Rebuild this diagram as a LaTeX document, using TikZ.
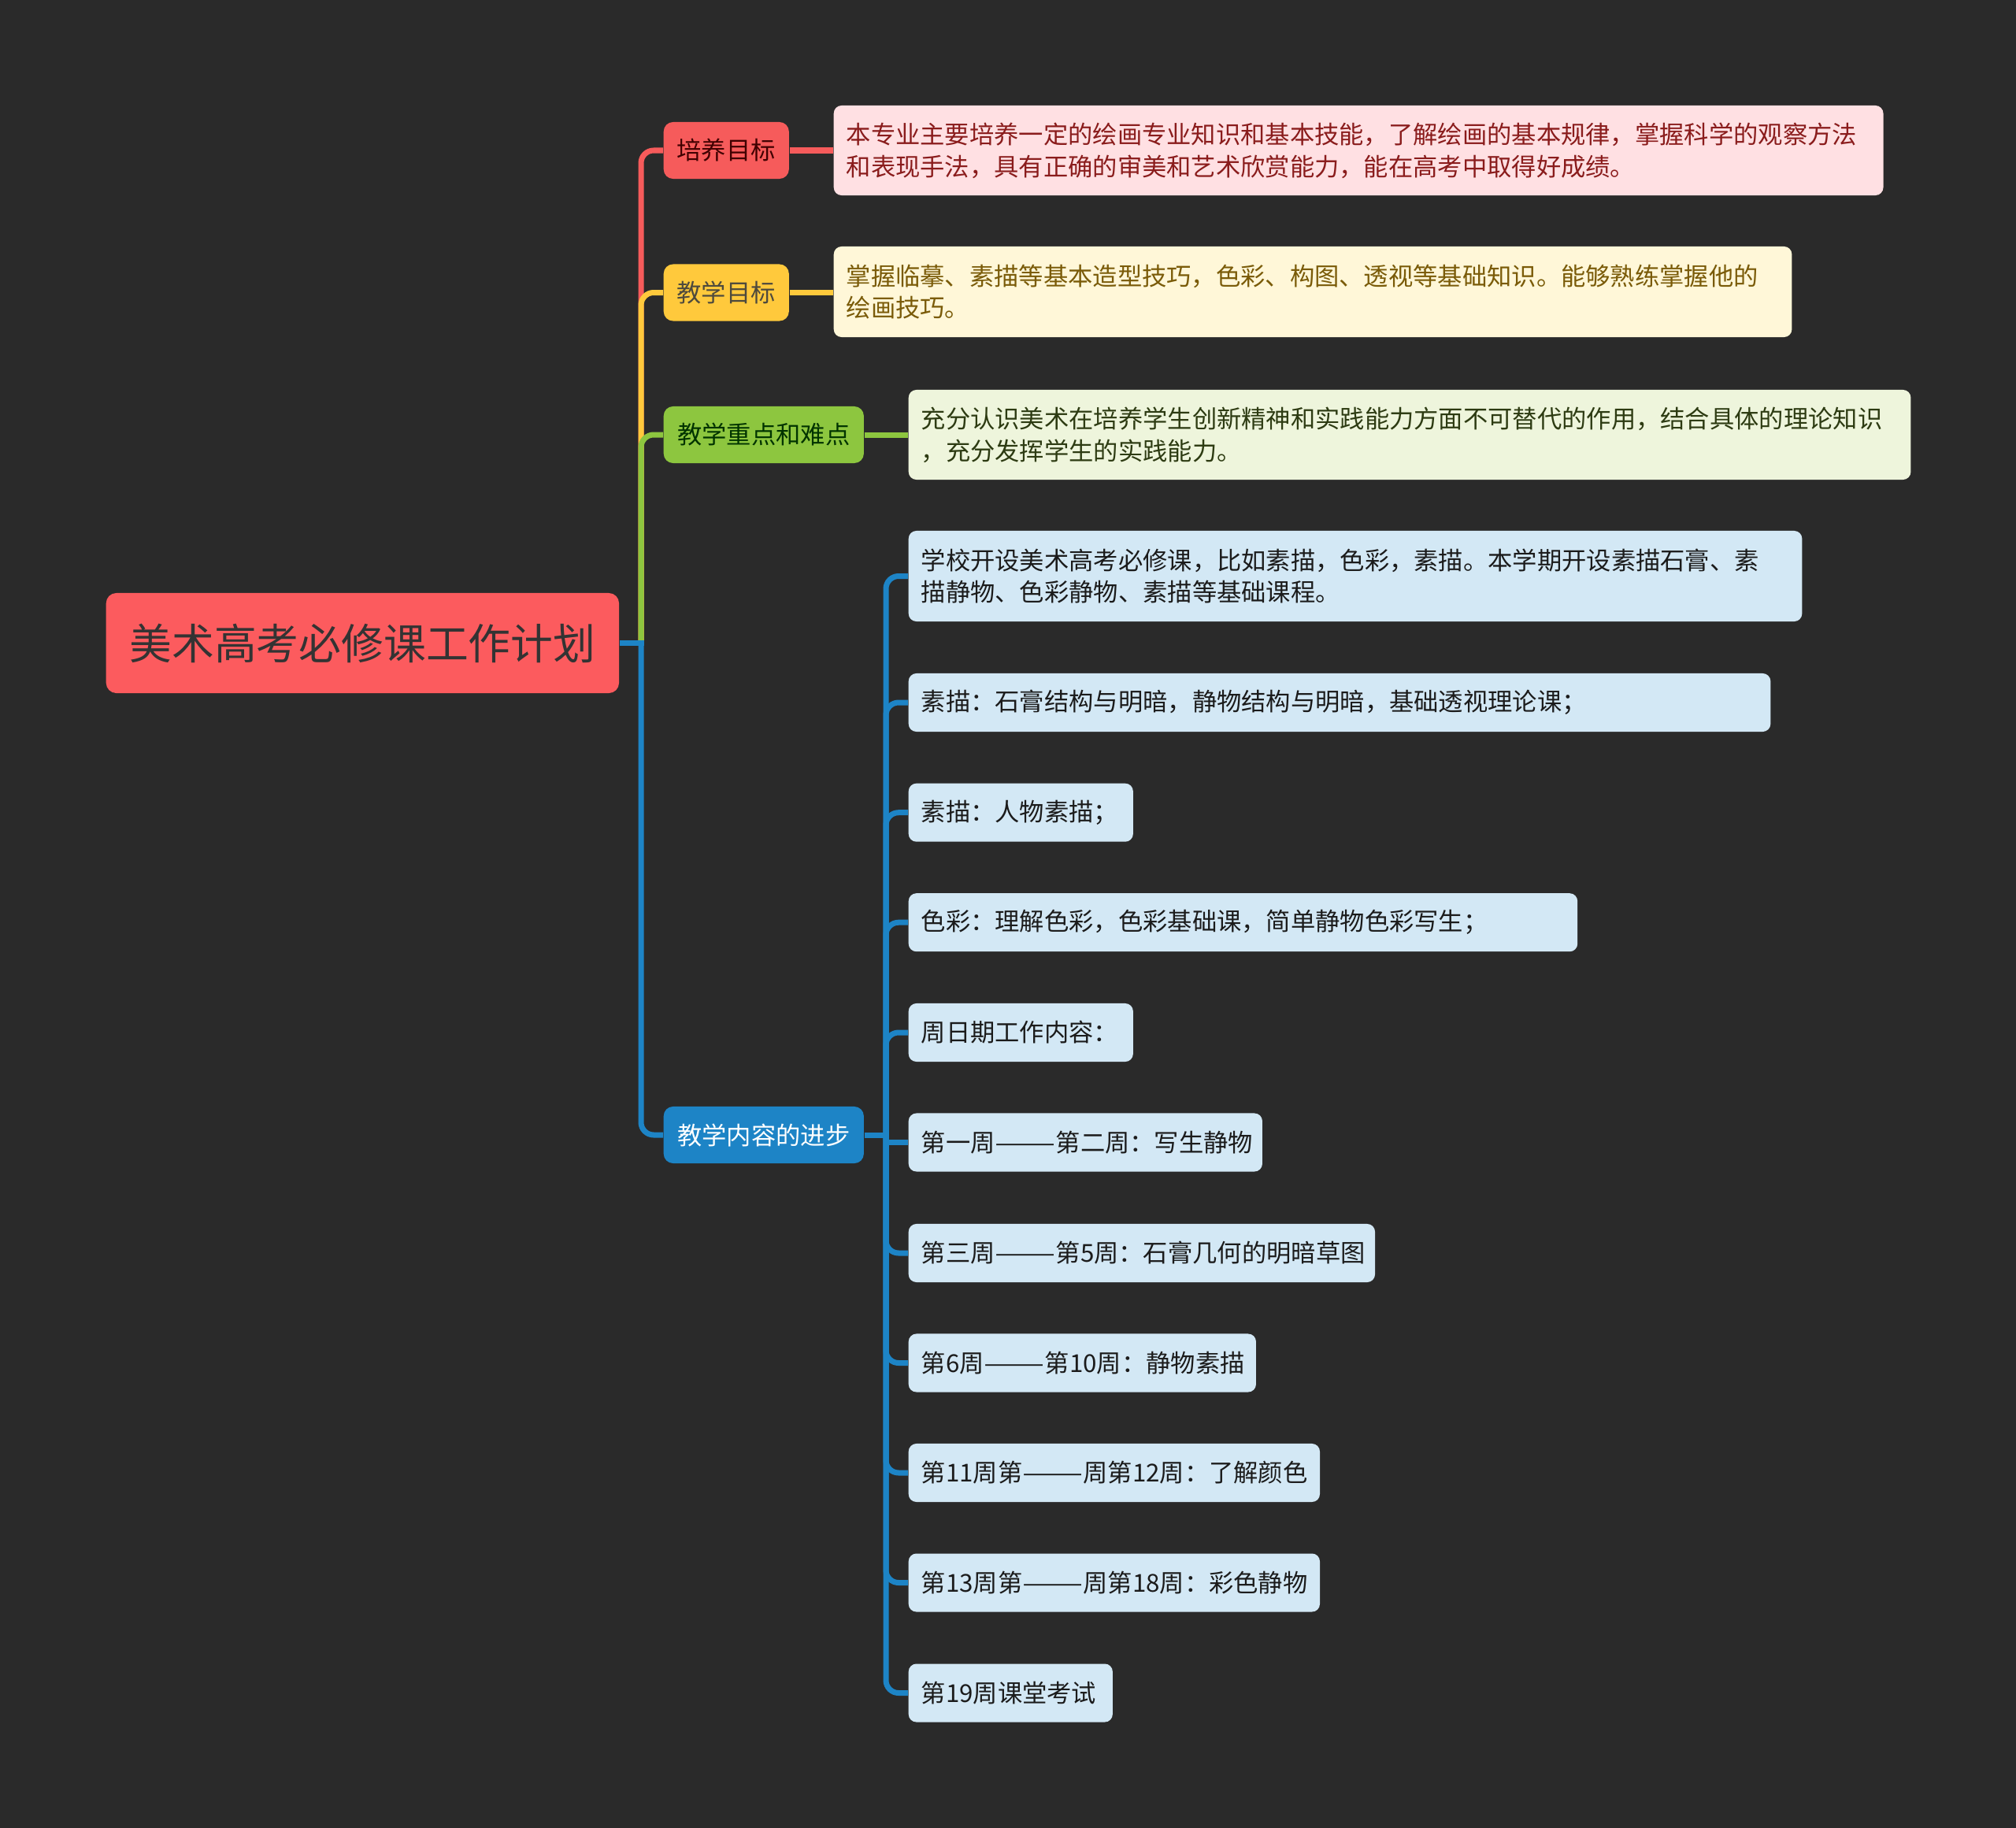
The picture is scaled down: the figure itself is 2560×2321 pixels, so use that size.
\documentclass[tikz,border=0pt]{standalone}
\usepackage{fontspec}
\setmainfont{Noto Sans CJK SC}
\usepackage{tikz}

\definecolor{bgdark}{HTML}{2A2A2A}
\definecolor{cRoot}{HTML}{FC5B5E}
\definecolor{cRed}{HTML}{F65B5B}
\definecolor{cYellow}{HTML}{FFC93C}
\definecolor{cGreen}{HTML}{8DC63F}
\definecolor{cBlue}{HTML}{1D84C6}
\definecolor{fPink}{HTML}{FFE0E3}
\definecolor{tPink}{HTML}{8A1C1C}
\definecolor{fYellow}{HTML}{FFF7D8}
\definecolor{tYellow}{HTML}{7A5B08}
\definecolor{fGreen}{HTML}{EEF5DC}
\definecolor{tGreen}{HTML}{2D3B12}
\definecolor{fBlue}{HTML}{D3E8F5}
\definecolor{tBlue}{HTML}{1B1B1B}

% 全角破折号
\newcommand{\wdash}{\scalebox{1.47}[1]{——}}

\begin{document}
\begin{tikzpicture}[x=0.01cm, y=-0.01cm,
		rootbox/.style={fill=cRoot, text=black!80, rounded corners=0.13cm, anchor=west,
			minimum width=6.51cm, minimum height=1.27cm, inner sep=0pt,
			font=\fontsize{15.3}{18}\selectfont},
		topic/.style={rounded corners=0.12cm, anchor=west, minimum height=0.72cm, inner sep=0pt,
			font=\fontsize{8.9}{11.6}\selectfont},
		leaf/.style={rounded corners=0.1cm, anchor=west, align=left, inner xsep=0.16cm, inner ysep=0pt,
			font=\fontsize{8.9}{11.6}\selectfont},
		bleaf/.style={leaf, fill=fBlue, text=tBlue, minimum height=0.74cm},
		branch/.style={line width=0.07cm, rounded corners=0.16cm}]
			% 背景
			\fill[bgdark] (0,0) rectangle (2560,2321);

			% 中心主题与一级分支
			\node[rootbox] (root) at (134,816.5) {美术高考必修课工作计划};
			\node[topic, fill=cRed, text=black!75!red, minimum width=1.59cm] (p1) at (842,191) {培养目标};
			\node[topic, fill=cYellow, text=black!80!yellow, minimum width=1.59cm] (p2) at (842,371.5) {教学目标};
			\node[topic, fill=cGreen, text=black!80!green, minimum width=2.54cm] (p3) at (842,552) {教学重点和难点};
			\node[topic, fill=cBlue, text=white, minimum width=2.54cm] (p4) at (842,1441) {教学内容的进步};

			% 二级内容
			\node[leaf, fill=fPink, text=tPink, text width=13.0cm, minimum height=1.14cm] (d1) at (1058,191)
				{本专业主要培养一定的绘画专业知识和基本技能，了解绘画的基本规律，掌握科学的观察方法\\和表现手法，具有正确的审美和艺术欣赏能力，能在高考中取得好成绩。};
			\node[leaf, fill=fYellow, text=tYellow, text width=11.84cm, minimum height=1.15cm] (d2) at (1058,370.5)
				{掌握临摹、素描等基本造型技巧，色彩、构图、透视等基础知识。能够熟练掌握他的\\绘画技巧。};
			\node[leaf, fill=fGreen, text=tGreen, text width=12.4cm, minimum height=1.14cm] (d3) at (1153,552)
				{充分认识美术在培养学生创新精神和实践能力方面不可替代的作用，结合具体的理论知识\\，充分发挥学生的实践能力。};

			% 教学内容的进步
			\node[bleaf, text width=11.02cm, minimum height=1.15cm] (b1) at (1153,731.5)
				{学校开设美术高考必修课，比如素描，色彩，素描。本学期开设素描石膏、素\\描静物、色彩静物、素描等基础课程。};
			\node[bleaf, text width=10.62cm] (b2) at (1153,892) {素描：石膏结构与明暗，静物结构与明暗，基础透视理论课；};
			\node[bleaf, text width=2.53cm] (b3) at (1153,1031.7) {素描：人物素描；};
			\node[bleaf, text width=8.17cm] (b4) at (1153,1171.2) {色彩：理解色彩，色彩基础课，简单静物色彩写生；};
			\node[bleaf, text width=2.53cm] (b5) at (1153,1311) {周日期工作内容：};
			\node[bleaf, text width=4.17cm] (b6) at (1153,1450.5) {第一周\wdash 第二周：写生静物};
			\node[bleaf, text width=5.6cm] (b7) at (1153,1591) {第三周\wdash 第5周：石膏几何的明暗草图};
			\node[bleaf, text width=4.09cm] (b8) at (1153,1730.5) {第6周\wdash 第10周：静物素描};
			\node[bleaf, text width=4.9cm] (b9) at (1153,1870) {第11周第\wdash 周第12周：了解颜色};
			\node[bleaf, text width=4.9cm] (b10) at (1153,2009.5) {第13周第\wdash 周第18周：彩色静物};
			\node[bleaf, text width=2.27cm] (b11) at (1153,2149.5) {第19周课堂考试};

			% 主干连线
			\coordinate (trunk) at (814,816.5);
			\draw[branch, cRed] (trunk) |- (p1.west);
			\draw[branch, cYellow] (trunk) |- (p2.west);
			\draw[branch, cGreen] (trunk) |- (p3.west);
			\draw[branch, cBlue] (trunk) |- (p4.west);
			\draw[branch, cBlue] (root.east) -- ([xshift=0.035cm]trunk);

			% 一级到二级
			\draw[branch, cRed] (p1.east) -- (d1.west);
			\draw[branch, cYellow] (p2.east) -- (p2.east -| d2.west);
			\draw[branch, cGreen] (p3.east) -- (d3.west);

			% 教学内容的进步的分支
			\coordinate (sub) at (1125,1441);
			\draw[branch, cBlue] (p4.east) -- ([xshift=0.035cm]sub);
			\draw[branch, cBlue] (sub) |- (b1.west);
			\draw[branch, cBlue] (sub) |- (b2.west);
			\draw[branch, cBlue] (sub) |- (b3.west);
			\draw[branch, cBlue] (sub) |- (b4.west);
			\draw[branch, cBlue] (sub) |- (b5.west);
			\draw[branch, cBlue] (b6.west -| sub) -- (b6.west);
			\draw[branch, cBlue] (sub) |- (b7.west);
			\draw[branch, cBlue] (sub) |- (b8.west);
			\draw[branch, cBlue] (sub) |- (b9.west);
			\draw[branch, cBlue] (sub) |- (b10.west);
			\draw[branch, cBlue] (sub) |- (b11.west);
		\end{tikzpicture}
\end{document}
